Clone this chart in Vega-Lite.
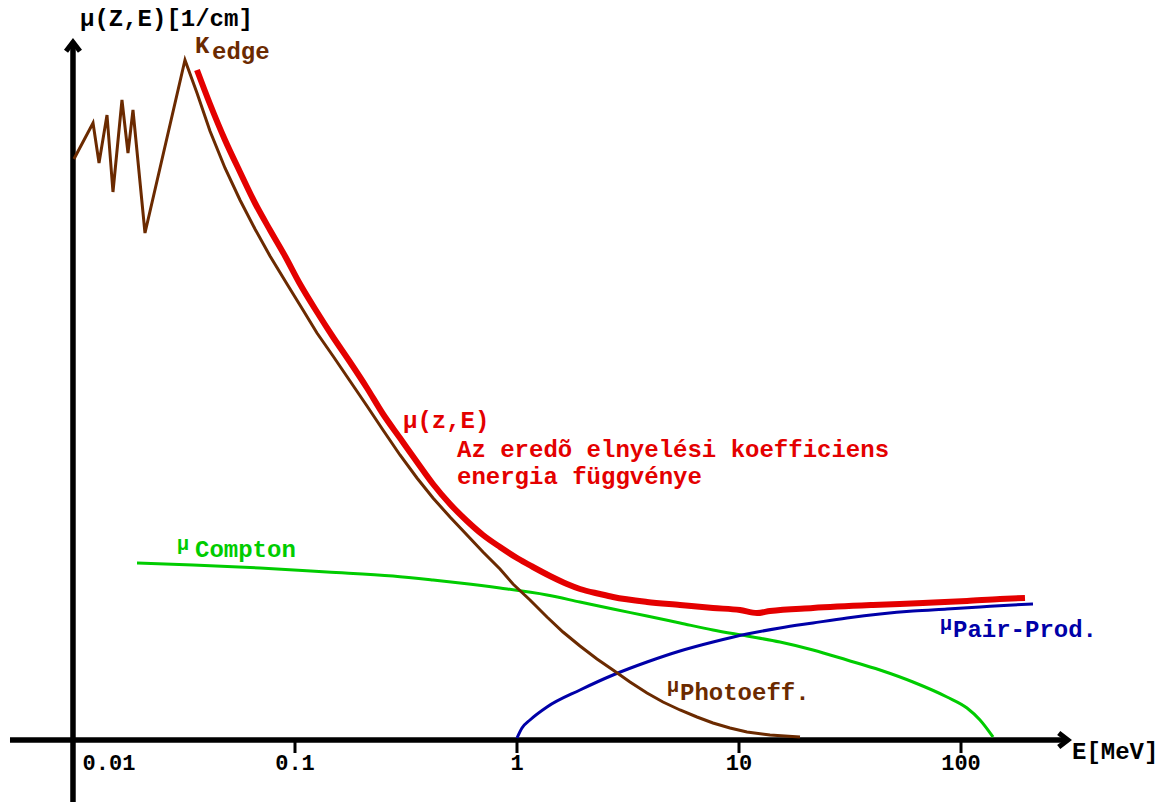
{
  "$schema": "https://vega.github.io/schema/vega-lite/v6.json",
  "width": 1175,
  "height": 802,
  "padding": 0,
  "autosize": {"type": "none"},
  "background": "white",
  "config": {"view": {"stroke": null}},
  "datasets": {
    "axes": [
      {"E": 0.01, "E2": 0.01, "mu": -62, "mu2": 698},
      {"E": 0.005203, "E2": 303.4, "mu": 0, "mu2": 0}
    ],
    "ticks": [
      {"E": 0.1, "E2": 0.1, "mu": 0, "mu2": -13},
      {"E": 1, "E2": 1, "mu": 0, "mu2": -13},
      {"E": 10, "E2": 10, "mu": 0, "mu2": -13},
      {"E": 100, "E2": 100, "mu": 0, "mu2": -13}
    ],
    "arrowUp": [{"E": 0.01, "mu": 693}],
    "arrowRight": [{"E": 288.05, "mu": 0}],
    "curves": [
      {"series": "photo", "E": 0.0101, "mu": 581},
      {"series": "photo", "E": 0.01231, "mu": 617},
      {"series": "photo", "E": 0.0131, "mu": 577},
      {"series": "photo", "E": 0.01423, "mu": 625},
      {"series": "photo", "E": 0.01514, "mu": 548},
      {"series": "photo", "E": 0.01662, "mu": 640},
      {"series": "photo", "E": 0.01769, "mu": 587},
      {"series": "photo", "E": 0.01863, "mu": 630},
      {"series": "photo", "E": 0.0211, "mu": 507},
      {"series": "photo", "E": 0.03195, "mu": 680},
      {"series": "photo", "E": 0.03619, "mu": 647},
      {"series": "photo", "E": 0.04141, "mu": 609},
      {"series": "photo", "E": 0.04838, "mu": 572},
      {"series": "photo", "E": 0.05653, "mu": 540},
      {"series": "photo", "E": 0.06604, "mu": 511},
      {"series": "photo", "E": 0.07716, "mu": 484},
      {"series": "photo", "E": 0.09204, "mu": 456},
      {"series": "photo", "E": 0.10865, "mu": 430},
      {"series": "photo", "E": 0.12562, "mu": 407},
      {"series": "photo", "E": 0.14831, "mu": 384},
      {"series": "photo", "E": 0.17691, "mu": 359},
      {"series": "photo", "E": 0.21102, "mu": 334},
      {"series": "photo", "E": 0.24911, "mu": 310},
      {"series": "photo", "E": 0.29714, "mu": 285},
      {"series": "photo", "E": 0.35444, "mu": 262},
      {"series": "photo", "E": 0.41843, "mu": 242},
      {"series": "photo", "E": 0.4991, "mu": 223},
      {"series": "photo", "E": 0.59535, "mu": 205},
      {"series": "photo", "E": 0.70282, "mu": 188},
      {"series": "photo", "E": 0.83835, "mu": 171},
      {"series": "photo", "E": 0.95936, "mu": 156},
      {"series": "photo", "E": 1.1444, "mu": 140},
      {"series": "photo", "E": 1.365, "mu": 123},
      {"series": "photo", "E": 1.6114, "mu": 108},
      {"series": "photo", "E": 1.9222, "mu": 94},
      {"series": "photo", "E": 2.2927, "mu": 81},
      {"series": "photo", "E": 2.7066, "mu": 70},
      {"series": "photo", "E": 3.2286, "mu": 58},
      {"series": "photo", "E": 3.8512, "mu": 47},
      {"series": "photo", "E": 4.5464, "mu": 38},
      {"series": "photo", "E": 5.4229, "mu": 30},
      {"series": "photo", "E": 6.4687, "mu": 23},
      {"series": "photo", "E": 7.6363, "mu": 17},
      {"series": "photo", "E": 9.1099, "mu": 12},
      {"series": "photo", "E": 10.865, "mu": 8},
      {"series": "photo", "E": 13.792, "mu": 5},
      {"series": "photo", "E": 18.827, "mu": 3},

      {"series": "compton", "E": 0.019423, "mu": 177},
      {"series": "compton", "E": 0.034717, "mu": 175},
      {"series": "compton", "E": 0.069556, "mu": 172},
      {"series": "compton", "E": 0.13936, "mu": 168},
      {"series": "compton", "E": 0.27634, "mu": 164},
      {"series": "compton", "E": 0.41843, "mu": 160},
      {"series": "compton", "E": 0.55366, "mu": 157},
      {"series": "compton", "E": 0.83835, "mu": 152},
      {"series": "compton", "E": 1.365, "mu": 145},
      {"series": "compton", "E": 1.9222, "mu": 138},
      {"series": "compton", "E": 2.7066, "mu": 131},
      {"series": "compton", "E": 3.8512, "mu": 124},
      {"series": "compton", "E": 5.4229, "mu": 117},
      {"series": "compton", "E": 7.6363, "mu": 110},
      {"series": "compton", "E": 10.865, "mu": 104},
      {"series": "compton", "E": 15.3, "mu": 98},
      {"series": "compton", "E": 21.544, "mu": 90},
      {"series": "compton", "E": 30.65, "mu": 80},
      {"series": "compton", "E": 43.17, "mu": 70},
      {"series": "compton", "E": 60.78, "mu": 58},
      {"series": "compton", "E": 86.48, "mu": 43},
      {"series": "compton", "E": 106.42, "mu": 32},
      {"series": "compton", "E": 121.8, "mu": 20},
      {"series": "compton", "E": 139.36, "mu": 3},

      {"series": "pair", "E": 1, "mu": 2},
      {"series": "pair", "E": 1.0532, "mu": 12},
      {"series": "pair", "E": 1.1444, "mu": 20},
      {"series": "pair", "E": 1.365, "mu": 33},
      {"series": "pair", "E": 1.9222, "mu": 50},
      {"series": "pair", "E": 2.7066, "mu": 65},
      {"series": "pair", "E": 3.8512, "mu": 78},
      {"series": "pair", "E": 5.4229, "mu": 89},
      {"series": "pair", "E": 7.6363, "mu": 98},
      {"series": "pair", "E": 10.865, "mu": 106},
      {"series": "pair", "E": 15.3, "mu": 112},
      {"series": "pair", "E": 21.544, "mu": 117},
      {"series": "pair", "E": 30.65, "mu": 122},
      {"series": "pair", "E": 43.17, "mu": 126},
      {"series": "pair", "E": 60.78, "mu": 129},
      {"series": "pair", "E": 86.48, "mu": 131},
      {"series": "pair", "E": 121.8, "mu": 133},
      {"series": "pair", "E": 171.5, "mu": 135},
      {"series": "pair", "E": 211.0, "mu": 136},

      {"series": "total", "E": 0.03619, "mu": 670},
      {"series": "total", "E": 0.04141, "mu": 636},
      {"series": "total", "E": 0.04838, "mu": 600},
      {"series": "total", "E": 0.05653, "mu": 568},
      {"series": "total", "E": 0.06604, "mu": 537},
      {"series": "total", "E": 0.07716, "mu": 510},
      {"series": "total", "E": 0.09015, "mu": 484},
      {"series": "total", "E": 0.10532, "mu": 456},
      {"series": "total", "E": 0.12562, "mu": 428},
      {"series": "total", "E": 0.14831, "mu": 403},
      {"series": "total", "E": 0.17691, "mu": 378},
      {"series": "total", "E": 0.21102, "mu": 352},
      {"series": "total", "E": 0.24911, "mu": 326},
      {"series": "total", "E": 0.29714, "mu": 302},
      {"series": "total", "E": 0.35444, "mu": 278},
      {"series": "total", "E": 0.41843, "mu": 256},
      {"series": "total", "E": 0.4991, "mu": 236},
      {"series": "total", "E": 0.59535, "mu": 219},
      {"series": "total", "E": 0.70282, "mu": 205},
      {"series": "total", "E": 0.83835, "mu": 193},
      {"series": "total", "E": 1, "mu": 182},
      {"series": "total", "E": 1.1806, "mu": 173},
      {"series": "total", "E": 1.4082, "mu": 164},
      {"series": "total", "E": 1.6797, "mu": 156},
      {"series": "total", "E": 1.9222, "mu": 151},
      {"series": "total", "E": 2.3652, "mu": 146},
      {"series": "total", "E": 2.7066, "mu": 143},
      {"series": "total", "E": 3.8512, "mu": 138},
      {"series": "total", "E": 5.4229, "mu": 135},
      {"series": "total", "E": 7.6363, "mu": 132},
      {"series": "total", "E": 10.104, "mu": 130},
      {"series": "total", "E": 12.053, "mu": 127},
      {"series": "total", "E": 13.792, "mu": 129},
      {"series": "total", "E": 21.544, "mu": 132},
      {"series": "total", "E": 40.14, "mu": 135},
      {"series": "total", "E": 67.43, "mu": 137},
      {"series": "total", "E": 106.42, "mu": 139},
      {"series": "total", "E": 149.86, "mu": 141},
      {"series": "total", "E": 194.2, "mu": 142}
    ],
    "labels": [
      {"text": "μ(Z,E)[1/cm]", "E": 0.010753, "mu": 714, "series": "axis", "role": "main"},
      {"text": "K", "E": 0.035444, "mu": 687, "series": "photo", "role": "main"},
      {"text": "edge", "E": 0.042281, "mu": 681, "series": "photo", "role": "main"},
      {"text": "μ(z,E)", "E": 0.30654, "mu": 312, "series": "total", "role": "main"},
      {"text": "Az eredõ elnyelési koefficiens", "E": 0.53672, "mu": 283, "series": "total", "role": "main"},
      {"text": "energia függvénye", "E": 0.53672, "mu": 256, "series": "total", "role": "main"},
      {"text": "μ", "E": 0.029408, "mu": 190, "series": "compton", "role": "mu"},
      {"text": "Compton", "E": 0.035444, "mu": 183, "series": "compton", "role": "main"},
      {"text": "μ", "E": 4.7389, "mu": 48, "series": "photo", "role": "mu"},
      {"text": "Photoeff.", "E": 5.4229, "mu": 40, "series": "photo", "role": "main"},
      {"text": "μ", "E": 80.42, "mu": 110, "series": "pair", "role": "mu"},
      {"text": "Pair-Prod.", "E": 92.03, "mu": 103, "series": "pair", "role": "main"},
      {"text": "E[MeV]", "E": 316.23, "mu": -19, "series": "axis", "role": "main"},
      {"text": "0.01", "E": 0.014525, "mu": -30, "series": "axis", "role": "tick"},
      {"text": "0.1", "E": 0.1, "mu": -30, "series": "axis", "role": "tick"},
      {"text": "1", "E": 1, "mu": -30, "series": "axis", "role": "tick"},
      {"text": "10", "E": 10, "mu": -30, "series": "axis", "role": "tick"},
      {"text": "100", "E": 100, "mu": -30, "series": "axis", "role": "tick"}
    ]
  },
  "encoding": {
    "x": {"field": "E", "type": "quantitative", "scale": {"type": "log", "domain": [0.0046906, 920.36], "nice": false}, "axis": null},
    "y": {"field": "mu", "type": "quantitative", "scale": {"domain": [-62, 740], "nice": false, "zero": false}, "axis": null}
  },
  "layer": [
    {
      "data": {"name": "axes"},
      "mark": {"type": "rule", "strokeWidth": 5.5, "color": "#000000"},
      "encoding": {"x2": {"field": "E2"}, "y2": {"field": "mu2"}}
    },
    {
      "data": {"name": "ticks"},
      "mark": {"type": "rule", "strokeWidth": 3, "color": "#000000"},
      "encoding": {"x2": {"field": "E2"}, "y2": {"field": "mu2"}}
    },
    {
      "data": {"name": "arrowUp"},
      "mark": {"type": "point", "filled": true, "color": "#000000", "opacity": 1, "strokeWidth": 0, "size": 324, "shape": "M0,-1L1,0.3L0.55,0.65L0,-0.1L-0.55,0.65L-1,0.3Z"}
    },
    {
      "data": {"name": "arrowRight"},
      "mark": {"type": "point", "filled": true, "color": "#000000", "opacity": 1, "strokeWidth": 0, "size": 324, "shape": "M1,0L-0.3,1L-0.65,0.55L0.1,0L-0.65,-0.55L-0.3,-1Z"}
    },
    {
      "data": {"name": "curves"},
      "transform": [{"filter": "datum.series === 'compton' || datum.series === 'pair'"}],
      "mark": {"type": "line", "strokeWidth": 3, "interpolate": "monotone"},
      "encoding": {
        "color": {"field": "series", "type": "nominal", "legend": null,
          "scale": {"domain": ["total", "photo", "compton", "pair", "axis"], "range": ["#e40000", "#6b2a00", "#00cc00", "#0000a8", "#000000"]}}
      }
    },
    {
      "data": {"name": "curves"},
      "transform": [{"filter": "datum.series === 'photo'"}],
      "mark": {"type": "line", "strokeWidth": 3, "interpolate": "linear", "strokeJoin": "miter"},
      "encoding": {
        "color": {"field": "series", "type": "nominal", "legend": null,
          "scale": {"domain": ["total", "photo", "compton", "pair", "axis"], "range": ["#e40000", "#6b2a00", "#00cc00", "#0000a8", "#000000"]}}
      }
    },
    {
      "data": {"name": "curves"},
      "transform": [{"filter": "datum.series === 'total'"}],
      "mark": {"type": "line", "strokeWidth": 6, "interpolate": "monotone"},
      "encoding": {
        "color": {"field": "series", "type": "nominal", "legend": null,
          "scale": {"domain": ["total", "photo", "compton", "pair", "axis"], "range": ["#e40000", "#6b2a00", "#00cc00", "#0000a8", "#000000"]}}
      }
    },
    {
      "data": {"name": "labels"},
      "transform": [{"filter": "datum.role === 'main'"}],
      "mark": {"type": "text", "font": "Liberation Mono", "fontWeight": "bold", "fontSize": 24, "align": "left", "baseline": "alphabetic"},
      "encoding": {
        "text": {"field": "text"},
        "color": {"field": "series", "type": "nominal", "legend": null,
          "scale": {"domain": ["total", "photo", "compton", "pair", "axis"], "range": ["#e40000", "#6b2a00", "#00cc00", "#0000a8", "#000000"]}}
      }
    },
    {
      "data": {"name": "labels"},
      "transform": [{"filter": "datum.role === 'mu'"}],
      "mark": {"type": "text", "font": "Liberation Mono", "fontWeight": "bold", "fontSize": 20, "align": "left", "baseline": "alphabetic"},
      "encoding": {
        "text": {"field": "text"},
        "color": {"field": "series", "type": "nominal", "legend": null,
          "scale": {"domain": ["total", "photo", "compton", "pair", "axis"], "range": ["#e40000", "#6b2a00", "#00cc00", "#0000a8", "#000000"]}}
      }
    },
    {
      "data": {"name": "labels"},
      "transform": [{"filter": "datum.role === 'tick'"}],
      "mark": {"type": "text", "font": "Liberation Mono", "fontWeight": "bold", "fontSize": 22, "align": "center", "baseline": "alphabetic"},
      "encoding": {
        "text": {"field": "text"},
        "color": {"field": "series", "type": "nominal", "legend": null,
          "scale": {"domain": ["total", "photo", "compton", "pair", "axis"], "range": ["#e40000", "#6b2a00", "#00cc00", "#0000a8", "#000000"]}}
      }
    }
  ]
}
